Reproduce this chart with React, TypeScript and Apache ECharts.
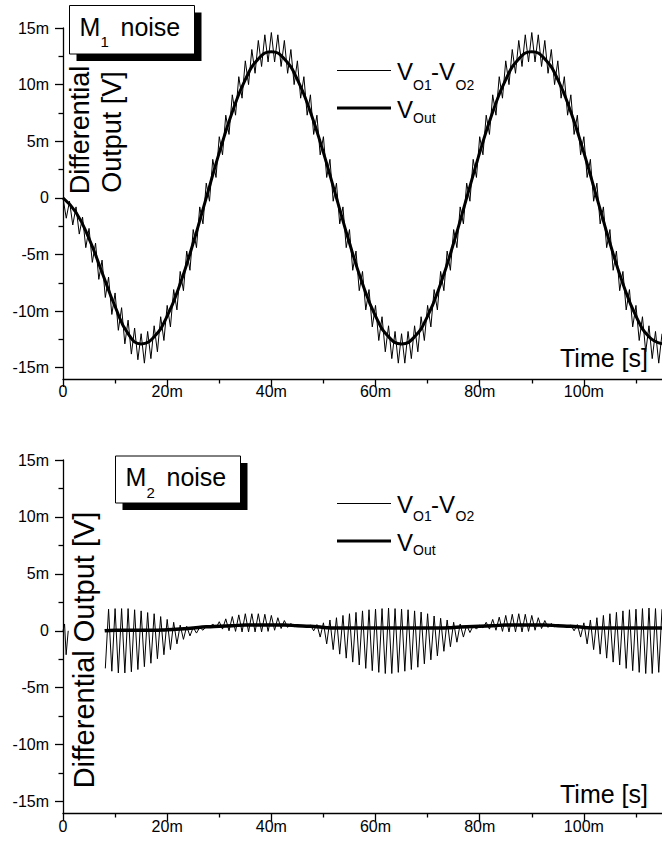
import React, { useEffect, useRef } from 'react';
import * as echarts from 'echarts';

const FONT = "'Liberation Sans', Arial, Helvetica, sans-serif";

// ---------- axes (time in ms shown as "m", voltage in mV shown as "m") ----------
const xTickValues = [0, 20, 40, 60, 80, 100];
const xMinorTickValues = [10, 30, 50, 70, 90, 110];
const yTickValues = [-15, -10, -5, 0, 5, 10, 15];
const yMinorTickValues = [-12.5, -7.5, -2.5, 2.5, 7.5, 12.5];

// ---------- M1 noise panel ----------
// V_O1 - V_O2 : ripple samples every 0.625 ms (peak, trough, peak, ...)
const m1ThinStep = 0.625;
const m1Thin = [
  0, -1.8, -0.3, -2.4, -0.8, -3.2, -1.7, -4.4, -2.7, -5.7,
  -4.0, -7.2, -5.5, -8.8, -7.0, -10.3, -8.4, -11.7, -9.7, -12.9,
  -10.8, -13.8, -11.5, -14.3,
  -12.0, -14.6, -11.8, -14.2, -11.3, -13.6, -10.5, -12.6, -9.5, -11.4,
  -8.1, -9.9, -6.5, -8.2, -4.7, -6.4, -2.8, -4.4, -0.8, -2.3,
  1.3, -0.3, 3.4, 1.8, 5.4, 3.8, 7.3, 5.6, 9.1, 7.3,
  10.7, 8.8, 12.1, 10.0, 13.1, 11.0, 13.9, 11.6, 14.4, 12.0,
  14.6, 12.0, 14.4, 11.6, 13.9, 11.0, 13.1, 10.0, 12.1, 8.8,
  10.7, 7.3, 9.1, 5.6, 7.3, 3.8, 5.4, 1.8, 3.4, -0.3,
  1.3, -2.3, -0.8, -4.4, -2.8, -6.4, -4.7, -8.2, -6.5, -9.9,
  -8.1, -11.4, -9.5, -12.6, -10.5, -13.6, -11.3, -14.2, -11.8, -14.6,
  -12.0, -14.6, -11.8, -14.2, -11.3, -13.6, -10.5, -12.6, -9.5, -11.4,
  -8.1, -9.9, -6.5, -8.2, -4.7, -6.4, -2.8, -4.4, -0.8, -2.3,
  1.3, -0.3, 3.4, 1.8, 5.4, 3.8, 7.3, 5.6, 9.1, 7.3,
  10.7, 8.8, 12.1, 10.0, 13.1, 11.0, 13.9, 11.6, 14.4, 12.0,
  14.6, 12.0, 14.4, 11.6, 13.9, 11.0, 13.1, 10.0, 12.1, 8.8,
  10.7, 7.3, 9.1, 5.6, 7.3, 3.8, 5.4, 1.8, 3.4, -0.3,
  1.3, -2.3, -0.8, -4.4, -2.8, -6.4, -4.7, -8.2, -6.5, -9.9,
  -8.1, -11.4, -9.5, -12.6, -10.5, -13.6, -11.3, -14.2, -11.8, -14.6,
  -12.0,
];
// V_Out
const m1OutT = [
  0, 2.5, 5, 7.5, 10, 12.5, 15, 17.5, 20, 22.5, 25, 27.5, 30, 32.5, 35, 37.5,
  40, 42.5, 45, 47.5, 50, 52.5, 55, 57.5, 60, 62.5, 65, 67.5, 70, 72.5, 75, 77.5,
  80, 82.5, 85, 87.5, 90, 92.5, 95, 97.5, 100, 102.5, 105, 107.5, 110, 112.5, 115,
];
const m1Out = [
  0, -1.3, -3.6, -6.6, -9.6, -12.0, -12.9, -12.27, -10.44, -7.58, -3.99, 0, 3.99, 7.58, 10.44, 12.27,
  12.9, 12.27, 10.44, 7.58, 3.99, 0, -3.99, -7.58, -10.44, -12.27, -12.9, -12.27, -10.44, -7.58, -3.99, 0,
  3.99, 7.58, 10.44, 12.27, 12.9, 12.27, 10.44, 7.58, 3.99, 0, -3.99, -7.58, -10.44, -12.27, -12.9,
];

// ---------- M2 noise panel ----------
const m2GlitchT = [0, 0.3, 0.6, 1.0];
const m2GlitchV = [0, 0.6, -2.1, 0];
const m2ThinStart = 8.125;
const m2ThinStep = 0.625;
const m2Thin = [
  -3.3, 1.9, -3.55, 1.95, -3.7, 1.95, -3.7, 1.95, -3.6, 1.85,
  -3.4, 1.75, -3.15, 1.6, -2.85, 1.5, -2.45, 1.25, -2.1, 1.0,
  -1.65, 0.75, -1.15, 0.5, -0.75, 0.4, -0.45, 0.3, -0.2, 0.3,
  0.05, 0.4, 0.3, 0.6, 0.25, 0.8, 0.15, 1.05, 0.0, 1.25,
  -0.05, 1.4, -0.1, 1.5, -0.1, 1.5, -0.1, 1.5, -0.1, 1.45,
  -0.05, 1.35, 0.05, 1.15, 0.2, 0.9, 0.3, 0.65, 0.35, 0.5,
  0.4, 0.45, 0.35, 0.5, 0.0, 0.55, -0.55, 0.7, -1.15, 0.95,
  -1.65, 1.15, -2.05, 1.35, -2.4, 1.5, -2.75, 1.62, -3.0, 1.75,
  -3.3, 1.85, -3.5, 1.9, -3.65, 1.95, -3.75, 2.0, -3.75, 1.95,
  -3.65, 1.9, -3.55, 1.85, -3.4, 1.75, -3.2, 1.65, -2.9, 1.5,
  -2.55, 1.3, -2.2, 1.1, -1.8, 0.95, -1.4, 0.75, -1.0, 0.6,
  -0.55, 0.5, -0.15, 0.45, 0.15, 0.5, 0.25, 0.75, 0.15, 1.0,
  0.05, 1.2, -0.05, 1.35, -0.1, 1.45, -0.1, 1.5, -0.1, 1.45,
  -0.05, 1.35, 0.05, 1.15, 0.2, 0.9, 0.3, 0.65, 0.35, 0.5,
  0.4, 0.45, 0.35, 0.5, 0.0, 0.55, -0.55, 0.7, -1.15, 0.95,
  -1.65, 1.15, -2.05, 1.35, -2.4, 1.5, -2.75, 1.62, -3.0, 1.75,
  -3.3, 1.85, -3.5, 1.9, -3.65, 1.95, -3.75, 2.0, -3.75, 1.95,
  -3.65, 1.9,
];
const m2OutT = [
  8, 10, 12.5, 15, 17.5, 20, 22.5, 25, 27.5, 30, 32.5, 35, 37.5, 40, 42.5, 45, 47.5,
  50, 52.5, 55, 57.5, 60, 62.5, 65, 67.5, 70, 72.5, 75, 77.5, 80, 82.5, 85, 87.5,
  90, 92.5, 95, 97.5, 100, 102.5, 105, 107.5, 110, 112.5, 115,
];
const m2Out = [
  0.0, 0.05, 0.05, 0.05, 0.05, 0.1, 0.15, 0.25, 0.35, 0.4, 0.45, 0.5, 0.5, 0.5, 0.5, 0.45, 0.4,
  0.3, 0.25, 0.25, 0.25, 0.25, 0.25, 0.25, 0.25, 0.25, 0.25, 0.3, 0.35, 0.4, 0.45, 0.5, 0.5,
  0.5, 0.5, 0.45, 0.4, 0.3, 0.25, 0.25, 0.25, 0.25, 0.25, 0.25,
];

const stepPairs = (start: number, step: number, vals: number[]) =>
  vals.map((v, i) => [start + i * step, v]);
const zipPairs = (ts: number[], vs: number[]) => ts.map((t, i) => [t, vs[i]]);

const fmt = (v: number) => (v === 0 ? '0' : `${v}m`);

function makeAxes(gridIndex: number, xMargin: number) {
  const lineStyle = { color: '#000', width: 1.3 };
  const xMajor = {
    type: 'value', gridIndex, min: 0, max: 115, position: 'bottom',
    axisLine: { show: true, onZero: false, lineStyle },
    axisTick: { show: true, customValues: xTickValues, length: 8, lineStyle },
    axisLabel: { customValues: xTickValues, formatter: fmt, color: '#000', fontSize: 16, fontFamily: FONT, margin: xMargin },
    splitLine: { show: false },
  };
  const xMinor = {
    type: 'value', gridIndex, min: 0, max: 115, position: 'bottom',
    axisLine: { show: false, onZero: false },
    axisTick: { show: true, customValues: xMinorTickValues, length: 4.5, lineStyle },
    axisLabel: { show: false },
    splitLine: { show: false },
  };
  const yMajor = {
    type: 'value', gridIndex, min: -16, max: 15, position: 'left',
    axisLine: { show: true, onZero: false, lineStyle },
    axisTick: { show: true, customValues: yTickValues, length: 8, lineStyle },
    axisLabel: { customValues: yTickValues, formatter: fmt, color: '#000', fontSize: 16, fontFamily: FONT, margin: 14 },
    splitLine: { show: false },
  };
  const yMinor = {
    type: 'value', gridIndex, min: -16, max: 15, position: 'left',
    axisLine: { show: false, onZero: false },
    axisTick: { show: true, customValues: yMinorTickValues, length: 4.5, lineStyle },
    axisLabel: { show: false },
    splitLine: { show: false },
  };
  return { x: [xMajor, xMinor], y: [yMajor, yMinor] };
}

function txt(x: number, y: number, text: string, size: number, extra: any = {}) {
  return {
    type: 'text', x, y, z: 100,
    style: {
      text, fill: '#000', font: `${size}px ${FONT}`,
      align: 'left', verticalAlign: 'middle', ...extra,
    },
  };
}

function legend(y1: number, y2: number, s1: number, s2: number) {
  return [
    { type: 'line', z: 100, shape: { x1: 337, y1, x2: 391, y2: y1 }, style: { stroke: '#000', lineWidth: 1 } },
    { type: 'line', z: 100, shape: { x1: 337, y1: y2, x2: 391, y2 }, style: { stroke: '#000', lineWidth: 3 } },
    txt(397, y1 + 0.5, 'V', 24),
    txt(413, s1, 'O1', 14),
    txt(431, y1 + 0.5, '-', 24),
    txt(439, y1 + 0.5, 'V', 24),
    txt(455.5, s1, 'O2', 14),
    txt(397, y2 + 1, 'V', 24),
    txt(413, s2, 'Out', 14),
  ];
}

function titleBox(x: number, y: number, w: number, h: number, sub: string) {
  return [
    { type: 'rect', z: 98, shape: { x: x + 7, y: y + 7, width: w, height: h }, style: { fill: '#000' } },
    { type: 'rect', z: 99, shape: { x, y, width: w, height: h }, style: { fill: '#fff', stroke: '#000', lineWidth: 1 } },
    txt(x + 10, y + 21, 'M', 25),
    txt(x + 31, y + 36, sub, 15),
    txt(x + 51, y + 21, 'noise', 25),
  ];
}

export default function App() {
  const ref = useRef<HTMLDivElement>(null);
  useEffect(() => {
    if (!ref.current) return;
    const chart = echarts.init(ref.current, undefined, { renderer: 'svg' });
    const a0 = makeAxes(0, 4);
    const a1 = makeAxes(1, 5);
    const thin = { type: 'line', showSymbol: false, symbol: 'none', lineStyle: { color: '#000', width: 1 }, z: 2 };
    const thick = { type: 'line', showSymbol: false, symbol: 'none', smooth: true, lineStyle: { color: '#000', width: 3 }, z: 3 };
    const option: any = {
      animation: false,
      backgroundColor: '#fff',
      grid: [
        { left: 63, top: 28, width: 599, height: 351, containLabel: false },
        { left: 63, top: 460, width: 599, height: 353, containLabel: false },
      ],
      xAxis: [...a0.x, ...a1.x],
      yAxis: [...a0.y, ...a1.y],
      series: [
        { ...thin, name: 'M1 VO1-VO2', xAxisIndex: 0, yAxisIndex: 0, data: stepPairs(0, m1ThinStep, m1Thin) },
        { ...thick, name: 'M1 VOut', xAxisIndex: 0, yAxisIndex: 0, data: zipPairs(m1OutT, m1Out) },
        { ...thin, name: 'M2 glitch', xAxisIndex: 2, yAxisIndex: 2, data: zipPairs(m2GlitchT, m2GlitchV) },
        { ...thin, name: 'M2 VO1-VO2', xAxisIndex: 2, yAxisIndex: 2, data: stepPairs(m2ThinStart, m2ThinStep, m2Thin) },
        { ...thick, name: 'M2 VOut', xAxisIndex: 2, yAxisIndex: 2, lineStyle: { color: '#000', width: 3.5 }, data: zipPairs(m2OutT, m2Out) },
      ],
      graphic: {
        elements: [
          // axis titles
          { type: 'text', x: 79.5, y: 130, rotation: Math.PI / 2, z: 50,
            style: { text: 'Differential', fill: '#000', font: `27px ${FONT}`, align: 'center', verticalAlign: 'middle' } },
          { type: 'text', x: 112, y: 132, rotation: Math.PI / 2, z: 50,
            style: { text: 'Output [V]', fill: '#000', font: `27px ${FONT}`, align: 'center', verticalAlign: 'middle' } },
          { type: 'text', x: 84, y: 650, rotation: Math.PI / 2, z: 50,
            style: { text: 'Differential Output [V]', fill: '#000', font: `29px ${FONT}`, align: 'center', verticalAlign: 'middle' } },
          txt(648, 358, 'Time [s]', 25, { align: 'right' }),
          txt(648, 794, 'Time [s]', 25, { align: 'right' }),
          ...legend(70.5, 108, 84.5, 117.5),
          ...legend(503.5, 541, 516, 550),
          ...titleBox(69.5, 5.5, 125, 48.5, '1'),
          ...titleBox(115.5, 456, 125, 47, '2'),
        ],
      },
    };
    chart.setOption(option);
    return () => chart.dispose();
  }, []);
  return (
    <div
      ref={ref}
      style={{ position: 'absolute', left: 0, top: 0, width: 662, height: 845, background: '#fff' }}
    />
  );
}
